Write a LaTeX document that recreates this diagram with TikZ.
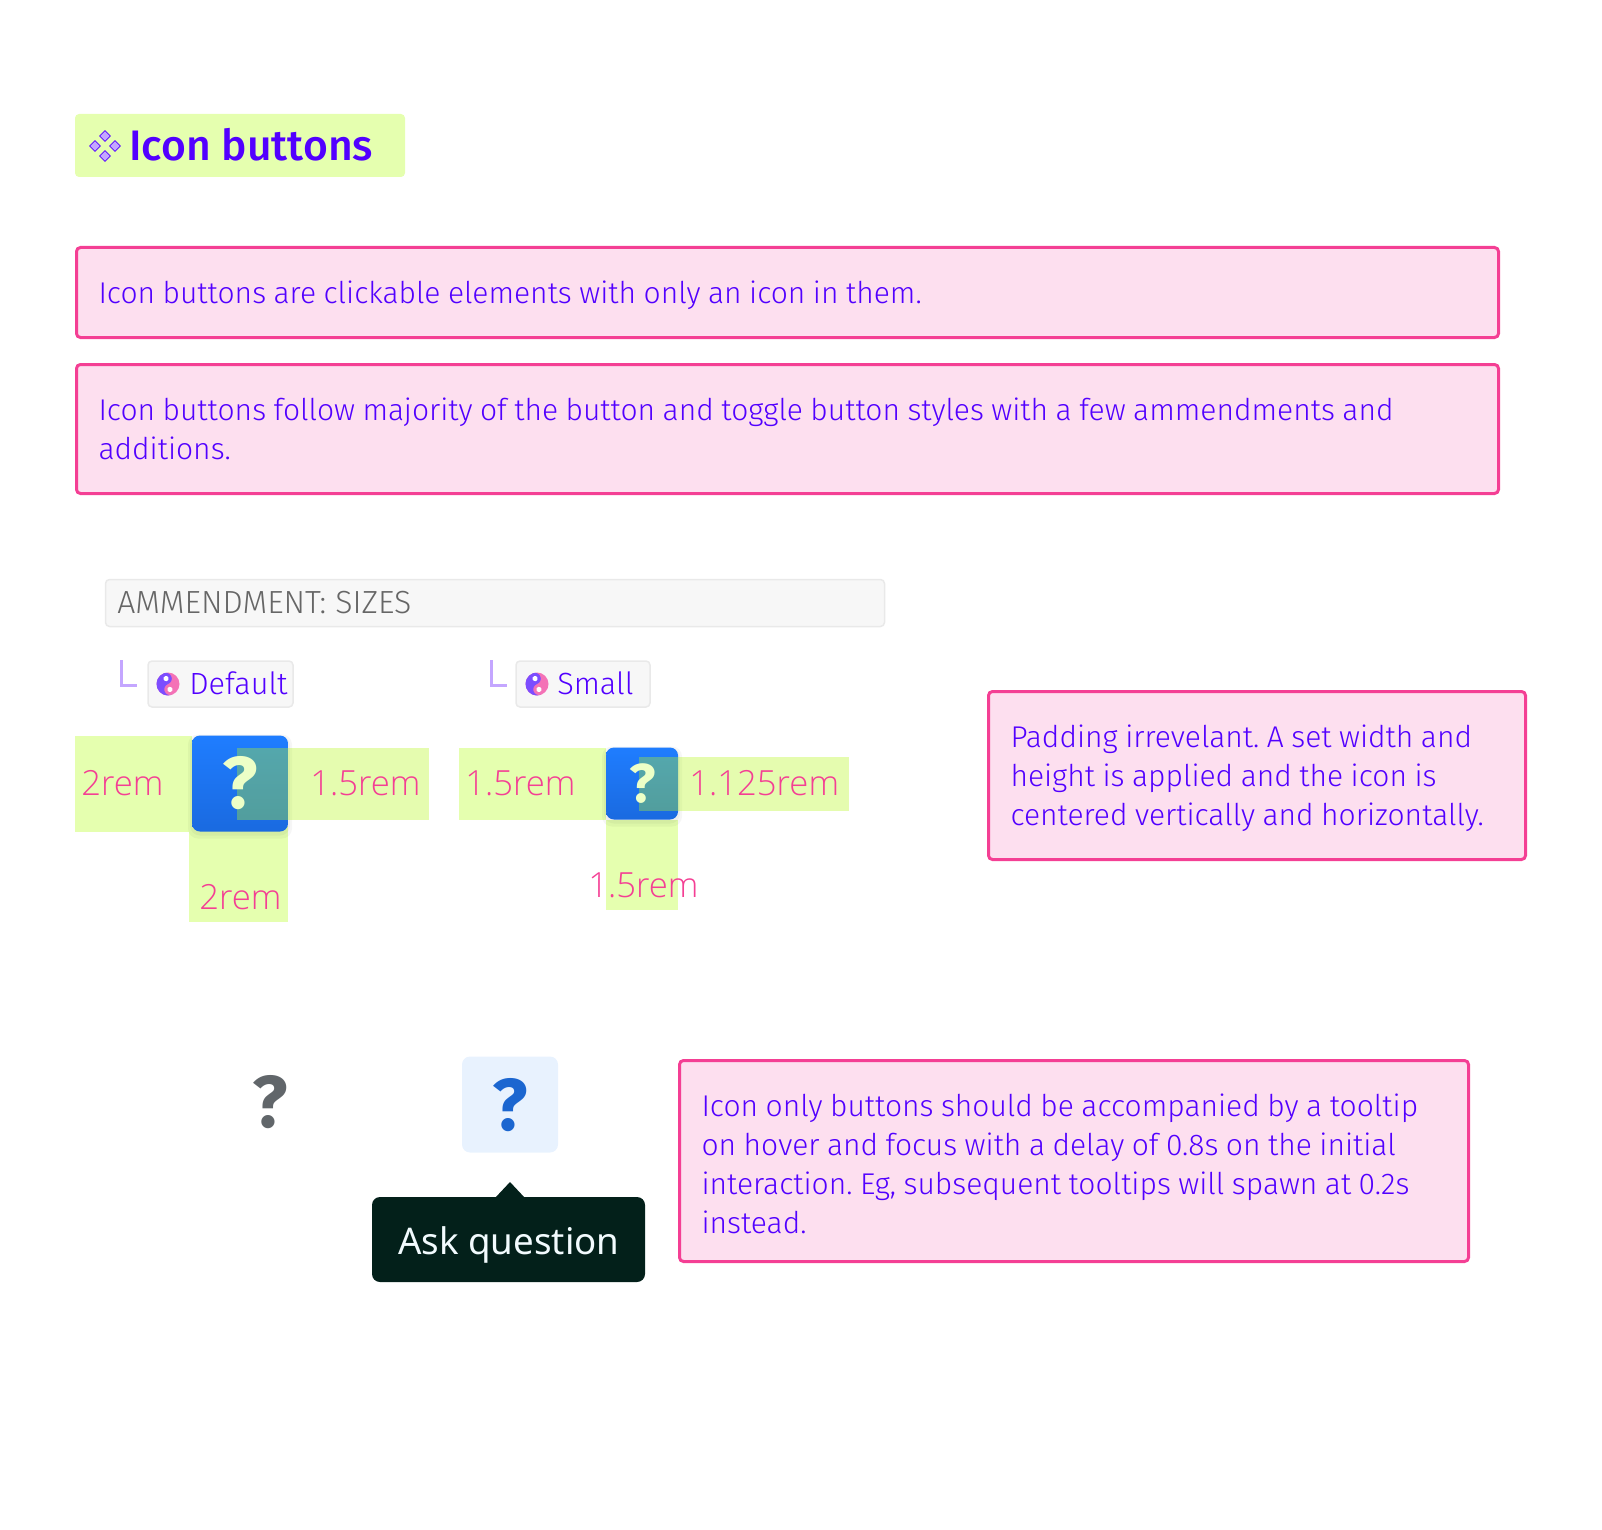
\documentclass[tikz,border=0pt]{standalone}
\usepackage{fontspec}
\setmainfont{Fira Sans}[UprightFont=* Light,BoldFont=* Medium]
\newfontfamily\labelfont{Open Sans Light}
\newfontfamily\tipfont{Noto Sans}
\newfontfamily\markfont{Fira Sans Bold}
\usetikzlibrary{shapes.geometric}

\newlength{\px}
\setlength{\px}{.75pt}
\newcommand{\tightwords}{\setlength{\spaceskip}{.25em}}

\definecolor{inkviolet}{HTML}{5200FF}
\definecolor{notepink}{HTML}{FDDFEF}
\definecolor{noteedge}{HTML}{F43F94}
\definecolor{limewash}{HTML}{E5FFAF}
\definecolor{limetint}{HTML}{B6F722}
\definecolor{chipfill}{HTML}{F7F7F7}
\definecolor{chipedge}{HTML}{E9E9E9}
\definecolor{btntop}{HTML}{1F7DFF}
\definecolor{btnbottom}{HTML}{1A6AE0}
\definecolor{stemviolet}{HTML}{C4A6FF}
\definecolor{yinpink}{HTML}{F472B6}
\definecolor{yinviolet}{HTML}{7C4DFF}
\definecolor{tipdark}{HTML}{03201A}
\definecolor{ghostgrey}{HTML}{61666A}
\definecolor{softblue}{HTML}{E8F2FE}
\definecolor{markblue}{HTML}{1B66D0}

\tikzset{
  notebox/.style={rectangle, rounded corners=4\px, draw=noteedge, line width=3\px, fill=notepink,
    text=inkviolet, inner xsep=22\px, inner ysep=0pt, align=left, font=\fontsize{22.5}{29.25}\selectfont},
  chipbox/.style={rectangle, rounded corners=4\px, draw=chipedge, line width=1.5\px, fill=chipfill, inner sep=0pt},
  chiptext/.style={anchor=base west, inner sep=0pt, text=inkviolet, font=\fontsize{23}{28}\selectfont},
  padblock/.style={rectangle, fill=limewash, inner sep=0pt},
  padtint/.style={rectangle, fill=limetint, fill opacity=.36, inner sep=0pt},
  sizelabel/.style={anchor=base west, inner sep=0pt, text=noteedge, font=\labelfont\fontsize{26}{30}\selectfont},
  bluebutton/.style={rectangle, rounded corners=8\px, top color=btntop, bottom color=btnbottom, inner sep=0pt},
  softshadow/.style={rectangle, rounded corners=10\px, fill=black, fill opacity=.035, inner sep=0pt},
  askmark/.style={inner sep=0pt, anchor=base},
  stemtick/.style={draw=stemviolet, line width=3\px},
  yinyang/.pic={
    \fill[yinpink] (0,0) circle [radius=11.5];
    \fill[yinviolet, rotate=20] (0,-11.5) arc (-90:-270:11.5) arc (90:270:5.75) arc (90:-90:5.75) -- cycle;
    \fill[white, rotate=20] (0,-5.75) circle [radius=2.6] (0,5.75) circle [radius=2.6];
  },
  gridmark/.style={diamond, draw=inkviolet, line width=.8\px, fill=stemviolet, inner sep=0pt, minimum size=11\px},
}

\begin{document}
\frenchspacing
\begin{tikzpicture}[x=.75pt, y=-.75pt]
      \useasboundingbox (0,0) rectangle (1602,1530);

      \node[rectangle, rounded corners=4\px, fill=limewash, minimum width=330\px, minimum height=63\px, inner sep=0pt] (titlebox) at (240,145.5) {};
      \begin{scope}[every node/.style={gridmark}]
        \node (gridtop)    at (105,136) {};
        \node (gridleft)   at (95,146)  {};
        \node (gridright)  at (115,146) {};
        \node (gridbottom) at (105,156) {};
      \end{scope}
      \node[anchor=base west, inner sep=0pt, text=inkviolet, font=\bfseries\fontsize{32}{36}\selectfont] (titletext) at (129,161) {Icon buttons};

      \node[notebox, text width=1378\px, minimum height=90\px, text depth=1\px] (noteclick) at (787.5,292.5)
        {\tightwords Icon buttons are clickable elements with only an icon in them.};
      \node[notebox, text width=1378\px, minimum height=129\px] (notefollow) at (787.5,429)
        {\tightwords Icon buttons follow majority of the button and toggle button styles with a few ammendments and\\additions.};
      \node[notebox, text width=493\px, minimum height=168\px] (notepadding) at (1257,775.5)
        {\tightwords\rule{0pt}{29\px}Padding irrevelant. A set width and\\height is applied and the icon is\\centered vertically and horizontally.};
      \node[notebox, text width=745\px, minimum height=201\px] (notetooltip) at (1074,1161)
        {\tightwords\rule{0pt}{28\px}Icon only buttons should be accompanied by a tooltip\\on hover and focus with a delay of 0.8s on the initial\\interaction. Eg, subsequent tooltips will spawn at 0.2s\\instead.};

      \node[chipbox, minimum width=779\px, minimum height=47\px] (sizesbar) at (495,603) {};
      \node[anchor=base west, inner sep=0pt, text=black!60, font=\fontsize{24}{28}\selectfont] (sizestext) at (117,613.5) {AMMENDMENT: SIZES};

      \draw[stemtick] (121,660) |- (137,685);
      \draw[stemtick] (491,660) |- (507,685);

      \node[chipbox, minimum width=145\px, minimum height=46\px] (chipdefault) at (220.5,684) {};
      \pic at (168,684) {yinyang};
      \node[chiptext] (chipdefaulttext) at (189,694) {Default};
      \node[chipbox, minimum width=134\px, minimum height=46\px] (chipsmall) at (583,684) {};
      \pic at (537,684) {yinyang};
      \node[chiptext] (chipsmalltext) at (557,694) {Small};

      \begin{scope}[every node/.style={padblock}]
        \node[minimum width=117\px, minimum height=96\px] (padleftbig)   at (133.5,783.5) {};
        \node[minimum width=99\px, minimum height=96\px]  (padbelowbig)  at (238.5,873.5) {};
        \node[minimum width=147\px, minimum height=72\px] (padleftsmall) at (532.5,783.5) {};
        \node[minimum width=72\px, minimum height=90\px]  (padbelowsmall) at (642,864.5) {};
      \end{scope}

      \begin{scope}[every node/.style={softshadow}]
        \node[minimum width=104\px, minimum height=104\px] (shadowbig)   at (240,786.5) {};
        \node[minimum width=100\px, minimum height=100\px] (shadowbigin) at (240,785.5) {};
        \node[minimum width=80\px, minimum height=80\px]   (shadowsmall) at (642,786.5) {};
        \node[minimum width=76\px, minimum height=76\px]   (shadowsmallin) at (642,785.5) {};
      \end{scope}

      \node[bluebutton, minimum width=96\px, minimum height=96\px] (buttonbig)   at (240,783.5) {};
      \node[bluebutton, minimum width=72\px, minimum height=72\px] (buttonsmall) at (642,783.5) {};

      \begin{scope}[every node/.style={padtint}]
        \node[minimum width=192\px, minimum height=72\px] (padrightbig)   at (333,783.5) {};
        \node[minimum width=210\px, minimum height=54\px] (padrightsmall) at (744,783.5) {};
      \end{scope}

      \node[askmark, text=limewash!70!white, font=\markfont\fontsize{55}{55}\selectfont] (markbig)   at (240,808) {?};
      \node[askmark, text=limewash!70!white, font=\markfont\fontsize{41}{41}\selectfont] (marksmall) at (643,802) {?};

      \begin{scope}[every node/.style={sizelabel}]
        \node (labelleftbig)    at (81,795.5)  {2rem};
        \node (labelrightbig)   at (310,795.5) {1.5rem};
        \node (labelbelowbig)   at (199,909) {2rem};
        \node (labelleftsmall)  at (465,795.5) {1.5rem};
        \node (labelrightsmall) at (689,795.5) {1.125rem};
        \node (labelbelowsmall) at (588,897) {1.5rem};
      \end{scope}

      \node[askmark, text=ghostgrey, font=\markfont\fontsize{55}{55}\selectfont] (markghost) at (270.5,1127) {?};
      \node[rectangle, rounded corners=8\px, fill=softblue, minimum width=96\px, minimum height=96\px, inner sep=0pt] (buttonsoft) at (510,1104.5) {};
      \node[askmark, text=markblue, font=\markfont\fontsize{55}{55}\selectfont] (marksoft) at (510.5,1130) {?};

      \node[rectangle, rounded corners=8\px, fill=tipdark, minimum width=273\px, minimum height=85\px, inner sep=0pt] (tooltip) at (508.5,1239.5) {};
      \fill[tipdark] (495,1198) -- (510,1182) -- (525,1198) -- cycle;
      \node[anchor=base west, inner sep=0pt, text=white!95!cyan, font=\tipfont\fontsize{27.5}{32}\selectfont] (tooltiptext) at (398,1254) {Ask question};

    \end{tikzpicture}
\end{document}
